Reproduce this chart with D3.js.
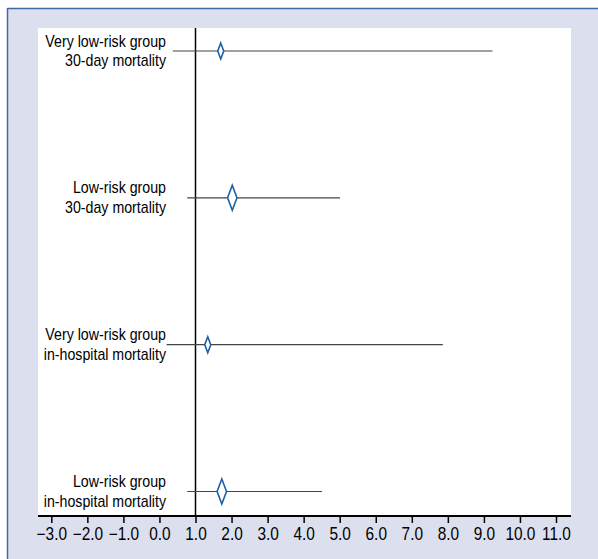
<!DOCTYPE html>
<html>
<head>
<meta charset="utf-8">
<script src="https://cdn.jsdelivr.net/npm/d3@7"></script>
<style>
  body { margin: 0; background: #fff; }
  svg text { font-family: "Liberation Sans", Arial, sans-serif; fill: #000; }
</style>
</head>
<body>
<svg id="chart" width="598" height="559"></svg>
<script>
// forest-plot rows, top to bottom
const groups = [
    ['Very low-risk group', '30-day mortality'],
    ['Low-risk group', '30-day mortality'],
    ['Very low-risk group', 'in-hospital mortality'],
    ['Low-risk group', 'in-hospital mortality']
];
const estimates = [1.70, 2.02, 1.34, 1.73];
const lowerCI = [0.37, 0.77, 0.20, 0.77];
const upperCI = [9.24, 5.01, 7.86, 4.51];
const bigMarker = [false, true, false, true];   // larger diamond on the low-risk rows
const tickValues = [-3, -2, -1, 0, 1, 2, 3, 4, 5, 6, 7, 8, 9, 10, 11];

const svg = d3.select('#chart');

// panel background with the blue edge on top and left
svg.append('rect')
    .attr('x', 8).attr('y', 9)
    .attr('width', 590).attr('height', 550)
    .attr('fill', '#dcdfee');
svg.append('line')
    .attr('x1', 7.5).attr('x2', 598).attr('y1', 8.5).attr('y2', 8.5)
    .attr('stroke', '#3c6aa6').attr('stroke-width', 1.5);
svg.append('line')
    .attr('x1', 7.5).attr('x2', 7.5).attr('y1', 8).attr('y2', 559)
    .attr('stroke', '#3c6aa6').attr('stroke-width', 1.5);

let plotLeft = 38;
let plotRight = 571;
let plotTop = 28;
let plotBottom = 516;
let squeeze = 0.835;     // the original uses a condensed face

svg.append('rect')
    .attr('x', plotLeft).attr('y', plotTop)
    .attr('width', plotRight - plotLeft).attr('height', plotBottom - plotTop)
    .attr('fill', '#fff');

let xScale = d3.scaleLinear().domain([-3, 11]).range([51.3, 556]);
let yScale = d3.scalePoint()
    .domain(d3.range(groups.length))
    .range([51, 491.5]);

// reference line at 1.0
svg.append('line')
    .attr('x1', xScale(1)).attr('x2', xScale(1))
    .attr('y1', plotTop).attr('y2', plotBottom)
    .attr('stroke', '#000').attr('stroke-width', 1.5);

let rows = svg.selectAll('g.row')
    .data(d3.range(groups.length))
    .enter()
    .append('g')
    .classed('row', true)
    .attr('transform', (i) => `translate(0,${yScale(i)})`);

rows.append('line')
    .attr('x1', (i) => xScale(lowerCI[i]))
    .attr('x2', (i) => xScale(upperCI[i]))
    .attr('y1', 0).attr('y2', 0)
    .attr('stroke', '#444').attr('stroke-width', 1.2);

rows.append('path')
    .attr('d', (i) => {
        let w = bigMarker[i] ? 4.7 : 3;
        let h = bigMarker[i] ? 12.5 : 8;
        let cx = xScale(estimates[i]);
        return `M${cx},${-h}L${cx + w},0L${cx},${h}L${cx - w},0Z`;
    })
    .attr('fill', '#fff')
    .attr('stroke', '#1f5ea8')
    .attr('stroke-width', 1.6);

rows.append('text')
    .attr('text-anchor', 'end')
    .attr('font-size', 17)
    .attr('transform', `translate(166,0) scale(${squeeze},1)`)
    .selectAll('tspan')
    .data((i) => groups[i])
    .enter()
    .append('tspan')
    .attr('x', 0)
    .attr('y', (d, j) => j === 0 ? -4.5 : 15.5)
    .text((d) => d);

// x axis
let xAxis = d3.axisBottom(xScale)
    .tickValues(tickValues)
    .tickSize(7)
    .tickPadding(5)
    .tickFormat((d) => d3.format('.1f')(d).replace('-', '\u2013'));

let gAxis = svg.append('g')
    .attr('transform', `translate(0,${plotBottom})`)
    .call(xAxis);

gAxis.select('.domain').remove();
gAxis.append('line')
    .attr('x1', plotLeft).attr('x2', plotRight)
    .attr('y1', 0).attr('y2', 0)
    .attr('stroke', '#000').attr('stroke-width', 2);
gAxis.selectAll('.tick line').attr('stroke', '#000').attr('stroke-width', 1.5);
gAxis.selectAll('.tick text')
    .attr('font-size', 17.5)
    .attr('fill', '#000')
    .attr('transform', 'scale(0.88,1)')
    .style('font-family', '"Liberation Sans", Arial, sans-serif');
</script>
</body>
</html>
